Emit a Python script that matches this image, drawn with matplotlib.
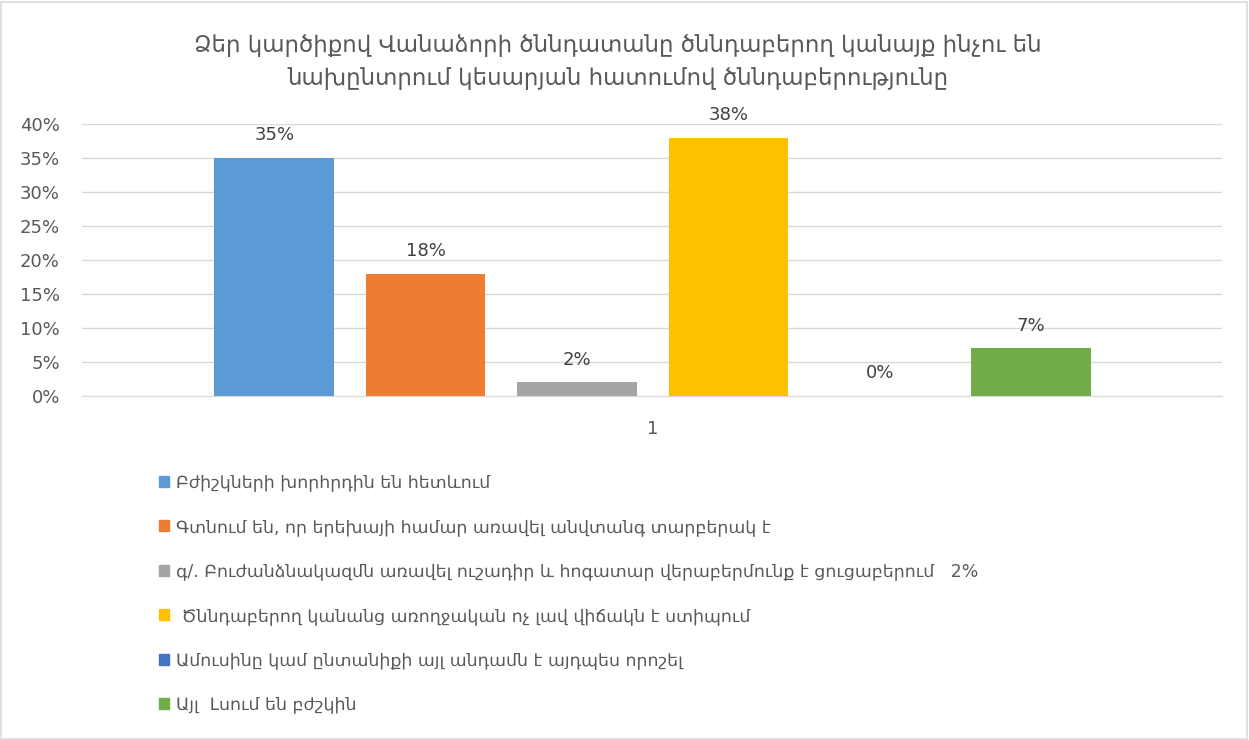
import matplotlib
matplotlib.use("Agg")
import matplotlib.pyplot as plt
from matplotlib.patches import Rectangle
import matplotlib.font_manager as fm

title = "Ձեր կարծիքով Վանաձորի ծննդատանը ծննդաբերող կանայք ինչու են\nնախընտրում կեսարյան հատումով ծննդաբերությունը"
series_names = [
    "Բժիշկների խորհրդին են հետևում",
    "Գտնում են, որ երեխայի համար առավել անվտանգ տարբերակ է",
    "գ/. Բուժանձնակազմն առավել ուշադիր և հոգատար վերաբերմունք է ցուցաբերում   2%",
    " Ծննդաբերող կանանց առողջական ոչ լավ վիճակն է ստիպում",
    "Ամուսինը կամ ընտանիքի այլ անդամն է այդպես որոշել",
    "Այլ  Լսում են բժշկին",
]
values = [0.35, 0.18, 0.02, 0.38, 0.00, 0.07]
colors = ["#5B9BD5", "#ED7D31", "#A5A5A5", "#FFC000", "#4472C4", "#70AD47"]
category = "1"
yticks = [0, 0.05, 0.10, 0.15, 0.20, 0.25, 0.30, 0.35, 0.40]

W, H = 1249, 740
fig = plt.figure(figsize=(W / 100, H / 100), dpi=100)
fig.patch.set_facecolor("white")
fig.add_artist(Rectangle((1 / W, 1 / H), 1 - 3 / W, 1 - 3 / H, transform=fig.transFigure,
                         fill=False, edgecolor="#D9D9D9", linewidth=1.2))

fam = ["DejaVu Sans"]
# axes: x 82..1222, y 124..396 (pixels from top)
ax = fig.add_axes([82 / W, 1 - 396 / H, (1222 - 82) / W, (396 - 124) / H])
positions = list(range(len(values)))
bars = ax.bar(positions, values, width=0.79, color=colors)
for p, v in zip(positions, values):
    ax.text(p, v + 0.02, f"{v*100:.0f}%", ha="center", va="bottom",
            fontsize=13, color="#404040", family=fam)

ax.set_xlim(-1.27, 6.26)
ax.set_ylim(0, 0.40)
ax.set_yticks(yticks)
ax.set_yticklabels([f"{t*100:.0f}%" for t in yticks], fontsize=13, color="#595959", family=fam)
ax.set_xticks([2.5])
ax.set_xticklabels([category], fontsize=13, color="#595959", family=fam)
ax.tick_params(axis="y", length=0, pad=16)
ax.tick_params(axis="x", length=0, pad=17)
ax.yaxis.grid(True, color="#D9D9D9", linewidth=1)
ax.set_axisbelow(True)
for s in ["top", "right", "left"]:
    ax.spines[s].set_visible(False)
ax.spines["bottom"].set_color("#D9D9D9")

fig.text(618 / W, 1 - 62 / H, title, ha="center", va="center", fontsize=16.5,
         color="#595959", family=fam, linespacing=1.55)

handles = [Rectangle((0, 0), 1, 1, color=c) for c in colors]
leg = fig.legend(handles, series_names, loc="upper left",
                 bbox_to_anchor=(143 / W, 1 - 458 / H), frameon=False,
                 handlelength=0.6, handleheight=0.6, handletextpad=0.4,
                 labelspacing=1.52, prop=fm.FontProperties(family=fam, size=12.5))
for t in leg.get_texts():
    t.set_color("#595959")

fig.savefig("out.png", dpi=100)
